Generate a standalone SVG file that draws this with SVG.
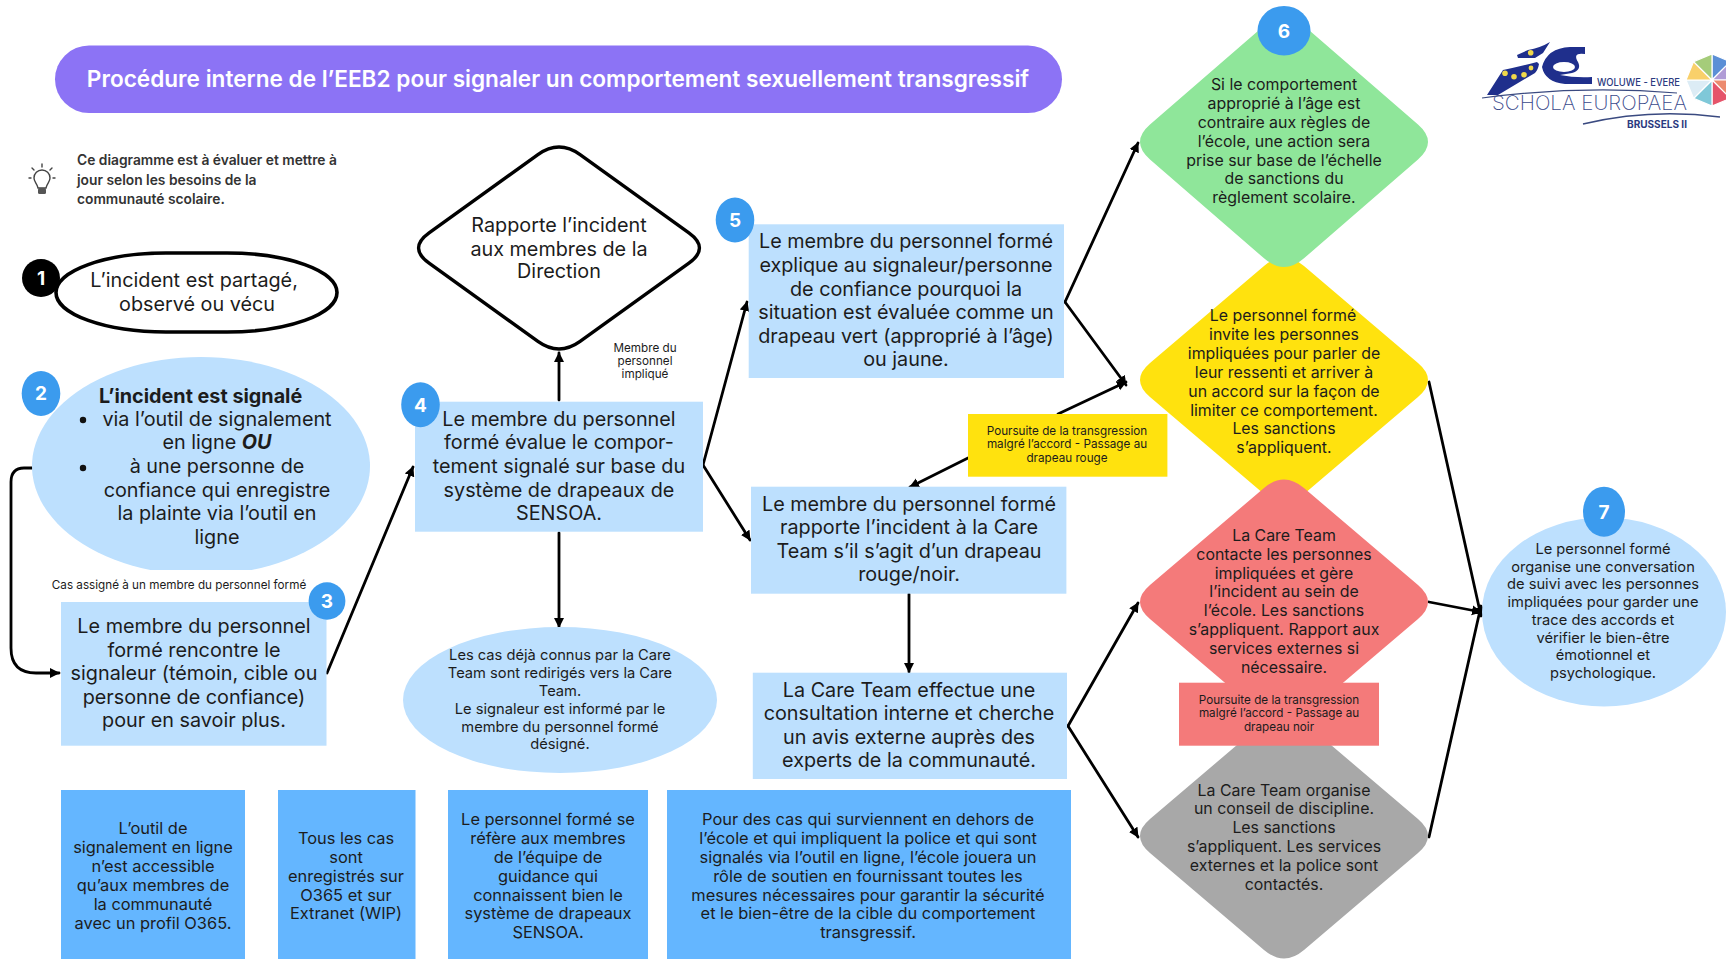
<svg xmlns="http://www.w3.org/2000/svg" width="1726" height="959" viewBox="0 0 1726 959">
<style>
text{font-family:"Inter","Noto Sans","Liberation Sans",sans-serif;fill:#1c1c1c;text-anchor:middle}
.l{font-size:19.8px}
.m{font-size:14.7px}
.d{font-size:15.9px}
.b{font-size:16.4px}
.s{font-size:11.7px}
.t{font-size:13.8px;font-weight:600;text-anchor:start;fill:#333}
.n{fill:#fff;font-size:19px;font-weight:700}
.lb{fill:#bde0fe}
.bd{fill:#3b9bee}
.dk{fill:#64b6ff}
.c{fill:none;stroke:#000;stroke-width:2.8;stroke-linejoin:round;stroke-linecap:round;marker-end:url(#a)}
</style>
<defs>
<marker id="a" markerUnits="userSpaceOnUse" markerWidth="12" markerHeight="12" refX="9" refY="5" orient="auto"><path d="M0 0L10 5L0 10z" fill="#000"/></marker>
<path id="dia" d="M-20-114Q0-131 20-114L134-17Q154 0 134 17L20 114Q0 131-20 114L-134 17Q-154 0-134-17Z"/>
</defs>
<rect width="1726" height="959" fill="#fff"/>

<g id="title"><rect x="55" y="45.5" width="1007" height="67.5" rx="34" fill="#8c73f5"/>
<text x="558" y="87" font-size="22.6" font-weight="600" style="fill:#fff">Procédure interne de l’EEB2 pour signaler un comportement sexuellement transgressif</text></g>

<g id="note">
<g fill="none" stroke="#444" stroke-width="1.4" stroke-linecap="round"><path d="M38 188C37 183 34 182 34 178A8 8 0 0 1 50 178C50 182 47 183 46 188Z"/><path d="M42 167V164M34 170L32 168M50 170L52 168M31 178H29M53 178H55"/></g>
<rect x="38" y="188" width="8" height="6" rx="1.5" fill="#555"/>
<text class="t" x="77" y="165">Ce diagramme est à évaluer et mettre à</text>
<text class="t" x="77" y="185">jour selon les besoins de la</text>
<text class="t" x="77" y="204">communauté scolaire.</text></g>

<g id="connectors">
<path class="c" d="M32 468H24Q11 468 11 482V648Q11 673 36 673H59"/>
<path class="c" d="M327 673L413 467"/>
<path class="c" d="M559 400V353"/>
<path class="c" d="M559 533V627"/>
<path class="c" d="M703 465L747 302"/>
<path class="c" d="M703 465L750 540"/>
<path class="c" d="M909 594V672"/>
<path class="c" d="M1065 302L1138 143"/>
<path class="c" d="M1065 302L1126 385"/>
<path class="c" d="M1058 414L1126 382"/>
<path class="c" d="M968 458L910 487"/>
<path class="c" d="M1068 726L1138 603"/>
<path class="c" d="M1068 726L1138 837"/>
<path class="c" d="M1429 382L1481 616"/>
<path class="c" d="M1429 602L1481 612"/>
<path class="c" d="M1429 837L1481 606"/>
</g>

<g id="node-1"><rect x="56" y="253" width="281" height="79" rx="110" ry="39.5" fill="#fff" stroke="#000" stroke-width="3.6"/>
<circle cx="41" cy="278" r="19" fill="#000"/><text class="n" x="41" y="285">1</text>
<text class="l" x="194" y="287">L’incident est partagé,</text><text class="l" x="197" y="311">observé ou vécu</text></g>

<g id="node-2"><path class="lb" d="M150.4 570A169 109 0 1 1 251.6 570Z"/>
<ellipse class="bd" cx="41" cy="393.5" rx="19.3" ry="22.5"/><text class="n" x="41" y="400">2</text>
<circle cx="83" cy="420" r="3.2" fill="#111"/><circle cx="83" cy="468" r="3.2" fill="#111"/>
<text class="l" x="200.6" y="403" font-weight="700">L’incident est signalé</text>
<text class="l" x="217" y="426">via l’outil de signalement</text>
<text class="l" x="217" y="449">en ligne <tspan font-weight="700" font-style="italic">OU</tspan></text>
<text class="l" x="217" y="473">à une personne de</text>
<text class="l" x="217" y="497">confiance qui enregistre</text>
<text class="l" x="217" y="520">la plainte via l’outil en</text>
<text class="l" x="217" y="544">ligne</text></g>

<g id="label-assigne"><text class="s" x="179" y="589">Cas assigné à un membre du personnel formé</text></g>

<g id="node-3"><rect class="lb" x="61" y="602" width="265.500" height="143.700"/>
<ellipse class="bd" cx="327" cy="601" rx="18.4" ry="18.800"/><text class="n" x="327" y="608">3</text>
<text class="l" x="194" y="633">Le membre du personnel</text><text class="l" x="194" y="657">formé rencontre le</text><text class="l" x="194" y="680">signaleur (témoin, cible ou</text><text class="l" x="194" y="704">personne de confiance)</text><text class="l" x="194" y="727">pour en savoir plus.</text></g>

<g id="node-direction"><path transform="translate(559 248)" fill="#fff" stroke="#000" stroke-width="3.4" d="M-21.1-93.4Q0-108.6 21.1-93.4L129.9-15.2Q151 0 129.9 15.2L21.1 93.4Q0 108.6-21.1 93.4L-129.900 15.2Q-151 0-129.9-15.2Z"/>
<text class="l" x="559" y="232">Rapporte l’incident</text><text class="l" x="559" y="255.700">aux membres de la</text><text class="l" x="559" y="278">Direction</text></g>

<g id="label-implique"><text class="s" x="645" y="352">Membre du</text><text class="s" x="645" y="365">personnel</text><text class="s" x="645" y="378">impliqué</text></g>

<g id="node-4"><rect class="lb" x="415" y="401.700" width="288" height="130"/>
<ellipse class="bd" cx="420.500" cy="404.700" rx="19.300" ry="22.500"/><text class="n" x="420.500" y="411.500">4</text>
<text class="l" x="559" y="425.700">Le membre du personnel</text><text class="l" x="559" y="449">formé évalue le compor-</text><text class="l" x="559" y="473">tement signalé sur base du</text><text class="l" x="559" y="497">système de drapeaux de</text><text class="l" x="559" y="520">SENSOA.</text></g>

<g id="node-connus"><ellipse class="lb" cx="560" cy="700" rx="157" ry="73"/>
<text class="m" x="560" y="660">Les cas déjà connus par la Care</text><text class="m" x="560" y="678">Team sont redirigés vers la Care</text><text class="m" x="560" y="696">Team.</text><text class="m" x="560" y="714">Le signaleur est informé par le</text><text class="m" x="560" y="732">membre du personnel formé</text><text class="m" x="560" y="749">désigné.</text></g>

<g id="note-1"><rect class="dk" x="61" y="790" width="184" height="169"/>
<text class="b" x="153" y="834">L’outil de</text><text class="b" x="153" y="853">signalement en ligne</text><text class="b" x="153" y="872">n’est accessible</text><text class="b" x="153" y="891">qu’aux membres de</text><text class="b" x="153" y="910">la communauté</text><text class="b" x="153" y="929">avec un profil O365.</text></g>

<g id="note-2"><rect class="dk" x="278" y="790" width="137.500" height="169"/>
<text class="b" x="346" y="844">Tous les cas</text><text class="b" x="346" y="863">sont</text><text class="b" x="346" y="882">enregistrés sur</text><text class="b" x="346" y="901">O365 et sur</text><text class="b" x="346" y="919">Extranet (WIP)</text></g>

<g id="note-3"><rect class="dk" x="448" y="790" width="200" height="169"/>
<text class="b" x="548" y="825">Le personnel formé se</text><text class="b" x="548" y="844">réfère aux membres</text><text class="b" x="548" y="863">de l’équipe de</text><text class="b" x="548" y="882">guidance qui</text><text class="b" x="548" y="901">connaissent bien le</text><text class="b" x="548" y="919">système de drapeaux</text><text class="b" x="548" y="938">SENSOA.</text></g>

<g id="note-4"><rect class="dk" x="667" y="790" width="404" height="169"/>
<text class="b" x="868" y="825">Pour des cas qui surviennent en dehors de</text><text class="b" x="868" y="844">l’école et qui impliquent la police et qui sont</text><text class="b" x="868" y="863">signalés via l’outil en ligne, l’école jouera un</text><text class="b" x="868" y="882">rôle de soutien en fournissant toutes les</text><text class="b" x="868" y="901">mesures nécessaires pour garantir la sécurité</text><text class="b" x="868" y="919">et le bien-être de la cible du comportement</text><text class="b" x="868" y="938">transgressif.</text></g>

<g id="node-5"><rect class="lb" x="748.700" y="224.300" width="315.300" height="153.700"/>
<ellipse class="bd" cx="735" cy="220" rx="19.300" ry="22.500"/><text class="n" x="735" y="227">5</text>
<text class="l" x="906" y="248">Le membre du personnel formé</text><text class="l" x="906" y="272">explique au signaleur/personne</text><text class="l" x="906" y="295.700">de confiance pourquoi la</text><text class="l" x="906" y="319">situation est évaluée comme un</text><text class="l" x="906" y="342.700">drapeau vert (approprié à l’âge)</text><text class="l" x="906" y="366">ou jaune.</text></g>

<g id="node-rapport"><rect class="lb" x="751" y="486.700" width="315.400" height="107"/>
<text class="l" x="909" y="511">Le membre du personnel formé</text><text class="l" x="909" y="534">rapporte l’incident à la Care</text><text class="l" x="909" y="558">Team s’il s’agit d’un drapeau</text><text class="l" x="909" y="581">rouge/noir.</text></g>

<g id="node-consultation"><rect class="lb" x="752.800" y="672.700" width="314.200" height="106.300"/>
<text class="l" x="909" y="697">La Care Team effectue une</text><text class="l" x="909" y="720">consultation interne et cherche</text><text class="l" x="909" y="744">un avis externe auprès des</text><text class="l" x="909" y="767">experts de la communauté.</text></g>

<g id="node-yellow"><use href="#dia" x="1284" y="380" fill="#ffe20e"/>
<text class="d" x="1283" y="320.700">Le personnel formé</text><text class="d" x="1284" y="340">invite les personnes</text><text class="d" x="1284" y="359">impliquées pour parler de</text><text class="d" x="1284" y="378">leur ressenti et arriver à</text><text class="d" x="1284" y="396.700">un accord sur la façon de</text><text class="d" x="1284" y="415.700">limiter ce comportement.</text><text class="d" x="1284" y="434.300">Les sanctions</text><text class="d" x="1284" y="452.700">s’appliquent.</text></g>

<g id="node-green"><path transform="translate(1284 142)" fill="#8fe69a" d="M-20-116.300Q0-133.700 20-116.300L134-17.400Q154 0 134 17.400L20 116.300Q0 133.700-20 116.300L-134 17.400Q-154 0-134-17.400Z"/>
<ellipse class="bd" cx="1284" cy="30.700" rx="26.500" ry="24.800"/><text class="n" x="1284" y="38">6</text>
<text class="d" x="1284" y="90">Si le comportement</text><text class="d" x="1284" y="109">approprié à l’âge est</text><text class="d" x="1284" y="127.700">contraire aux règles de</text><text class="d" x="1284" y="146.700">l’école, une action sera</text><text class="d" x="1284" y="165.700">prise sur base de l’échelle</text><text class="d" x="1284" y="184">de sanctions du</text><text class="d" x="1284" y="202.700">règlement scolaire.</text></g>

<g id="label-rouge"><rect x="968" y="414" width="199.400" height="62.700" fill="#ffe20e"/>
<text class="s" x="1067" y="435">Poursuite de la transgression</text><text class="s" x="1067" y="448">malgré l’accord - Passage au</text><text class="s" x="1067" y="462">drapeau rouge</text></g>

<g id="node-grey"><use href="#dia" x="1284" y="836" fill="#a8a8a8"/>
<text class="d" x="1284" y="795.700">La Care Team organise</text><text class="d" x="1284" y="814">un conseil de discipline.</text><text class="d" x="1284" y="833">Les sanctions</text><text class="d" x="1284" y="852">s’appliquent. Les services</text><text class="d" x="1284" y="871">externes et la police sont</text><text class="d" x="1284" y="890">contactés.</text></g>

<g id="node-red"><use href="#dia" x="1284" y="602" fill="#f47a7a"/>
<text class="d" x="1284" y="541">La Care Team</text><text class="d" x="1284" y="560">contacte les personnes</text><text class="d" x="1284" y="578.700">impliquées et gère</text><text class="d" x="1284" y="597">l’incident au sein de</text><text class="d" x="1284" y="616">l’école. Les sanctions</text><text class="d" x="1284" y="635">s’appliquent. Rapport aux</text><text class="d" x="1284" y="653.700">services externes si</text><text class="d" x="1284" y="672.700">nécessaire.</text></g>

<g id="label-noir"><rect x="1179" y="682.700" width="200" height="63" fill="#f47a7a"/>
<text class="s" x="1279" y="704">Poursuite de la transgression</text><text class="s" x="1279" y="717">malgré l’accord - Passage au</text><text class="s" x="1279" y="731">drapeau noir</text></g>

<g id="node-7"><ellipse class="lb" cx="1604" cy="612" rx="122" ry="94.500"/>
<ellipse class="bd" cx="1604" cy="511.700" rx="21" ry="25"/><text class="n" x="1604" y="519">7</text>
<text class="m" x="1603" y="554">Le personnel formé</text><text class="m" x="1603" y="571.700">organise une conversation</text><text class="m" x="1603" y="589.400">de suivi avec les personnes</text><text class="m" x="1603" y="607">impliquées pour garder une</text><text class="m" x="1603" y="624.800">trace des accords et</text><text class="m" x="1603" y="642.500">vérifier le bien-être</text><text class="m" x="1603" y="660.200">émotionnel et</text><text class="m" x="1603" y="678">psychologique.</text></g>

<g id="logo">
<path fill="#1f2f8c" d="M1487 95L1503 70Q1518 67 1537 62L1539 64Q1538 70 1535 73L1498 95Z"/>
<path fill="#1f2f8c" d="M1517 55L1528 50Q1540 48 1550 42L1543 53L1535 58H1518Z"/>
<path fill="#1f2f8c" d="M1585 47V54Q1572 52 1578 62Q1582 70 1572 73L1560 75Q1575 78 1592 77V84L1565 84Q1545 82 1542 67Q1547 48 1570 47Z"/>
<ellipse cx="1564" cy="67" rx="11" ry="5" fill="#fff"/>
<g fill="#f0d84a"><circle cx="1530.700" cy="52.700" r="2.800"/><circle cx="1505" cy="73.300" r="2.800"/><circle cx="1514" cy="76.700" r="2.800"/><circle cx="1524" cy="74.700" r="2.800"/><circle cx="1531" cy="68" r="2.400"/></g>
<path fill="none" stroke="#3a4a80" stroke-width="1.2" d="M1482 98Q1580 85 1677 93"/>
<path fill="none" stroke="#3a4a80" stroke-width="1.500" d="M1583 124Q1650 108 1720 117"/>
<text x="1589.500" y="110" font-size="20" font-weight="200" textLength="195" lengthAdjust="spacingAndGlyphs" style="fill:#3a4a8c">SCHOLA EUROPAEA</text>
<text x="1638.500" y="86" font-size="10" font-weight="500" textLength="83" lengthAdjust="spacingAndGlyphs" style="fill:#2b3a80">WOLUWE - EVERE</text>
<text x="1657" y="127.700" font-size="10.500" font-weight="700" textLength="60" lengthAdjust="spacingAndGlyphs" style="fill:#2b3a80">BRUSSELS II</text>
<g stroke="#fff" stroke-width="1.200"><path fill="#5b8fd6" d="M1712 80V54L1730.400 61.600Z"/><path fill="#b09cd6" d="M1712 80L1730.400 61.600L1738 80Z"/><path fill="#ec8a6e" d="M1712 80H1738L1730.400 98.400Z"/><path fill="#e5546a" d="M1712 80L1730.400 98.400L1712 106Z"/><path fill="#7fc8d8" d="M1712 80V106L1693.600 98.400Z"/><path fill="#dcecf5" d="M1712 80L1693.600 98.400L1686 80Z"/><path fill="#f9d06a" d="M1712 80H1686L1693.600 61.600Z"/><path fill="#a5cc7a" d="M1712 80L1693.600 61.600L1712 54Z"/></g>
</g>
</svg>
